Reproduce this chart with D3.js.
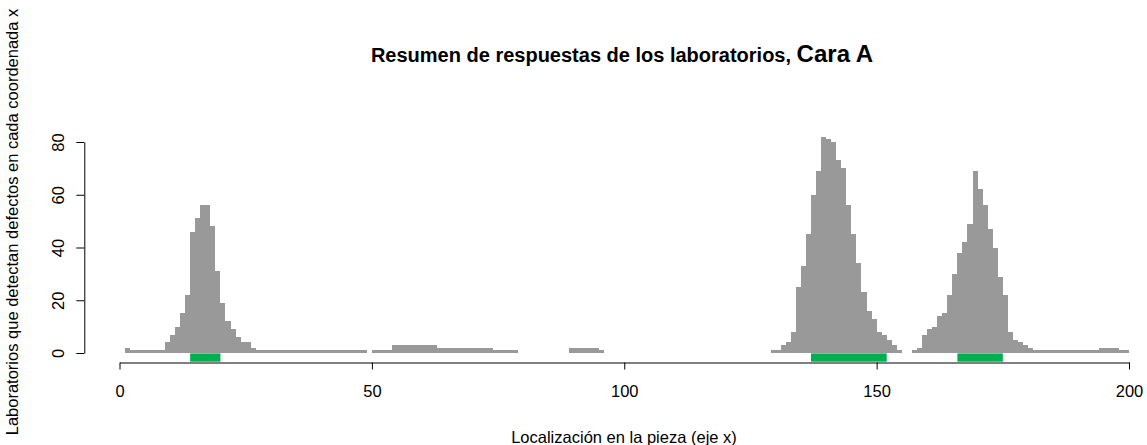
<!DOCTYPE html>
<html>
<head>
<meta charset="utf-8">
<script src="https://cdn.jsdelivr.net/npm/d3@7"></script>
<style>
  html, body { margin: 0; padding: 0; background: #fff; }
  svg { display: block; font-family: "Liberation Sans", Arial, sans-serif; }
</style>
</head>
<body>
<svg id="chart" width="1147" height="445"></svg>
<script>
// ---- Data ----
// Count of laboratories detecting defects for each unit bin [i, i+1), i = 0..199
const counts = [
  0, 2, 1, 1, 1, 1, 1, 1, 1, 4,
  7, 10, 15, 22, 46, 51, 56, 56, 48, 31,
  19, 12, 9, 6, 4, 4, 2, 1, 1, 1,
  1, 1, 1, 1, 1, 1, 1, 1, 1, 1,
  1, 1, 1, 1, 1, 1, 1, 1, 1, 0,
  1, 1, 1, 1, 3, 3, 3, 3, 3, 3,
  3, 3, 3, 2, 2, 2, 2, 2, 2, 2,
  2, 2, 2, 2, 1, 1, 1, 1, 1, 0,
  0, 0, 0, 0, 0, 0, 0, 0, 0, 2,
  2, 2, 2, 2, 2, 1, 0, 0, 0, 0,
  0, 0, 0, 0, 0, 0, 0, 0, 0, 0,
  0, 0, 0, 0, 0, 0, 0, 0, 0, 0,
  0, 0, 0, 0, 0, 0, 0, 0, 0, 1,
  1, 3, 4, 8, 25, 33, 45, 60, 69, 82,
  81, 80, 73, 70, 56, 45, 34, 23, 16, 13,
  8, 7, 5, 3, 1, 0, 0, 1, 2, 7,
  9, 10, 14, 15, 22, 30, 38, 42, 49, 69,
  62, 56, 47, 40, 29, 22, 8, 5, 4, 3,
  2, 1, 1, 1, 1, 1, 1, 1, 1, 1,
  1, 1, 1, 1, 2, 2, 2, 2, 1, 1
];
// True defect zones (green marks)
const zoneStart = [14, 137, 166];
const zoneEnd   = [20, 152, 175];
// Ticks
const xTicks = [0, 50, 100, 150, 200];
const yTicks = [0, 20, 40, 60, 80];
// Texts
const titleMain = "Resumen de respuestas de los laboratorios, ";
const titleFace = "Cara A";
const xTitle = "Localización en la pieza (eje x)";
const yTitle = "Laboratorios que detectan defectos en cada coordenada x";

// ---- Chart ----
const svg = d3.select("#chart");
const x = d3.scaleLinear().domain([0, 200]).range([119.5, 1129]);
const y = d3.scaleLinear().domain([0, 80]).range([353, 142]);

const bins = counts.map((v, i) => ({ pos: i, v: v })).filter(d => d.v > 0);

svg.append("g")
  .attr("shape-rendering", "crispEdges")
  .selectAll("rect")
  .data(bins)
  .join("rect")
  .attr("x", d => x(d.pos))
  .attr("width", d => x(d.pos + 1) - x(d.pos))
  .attr("y", d => y(d.v))
  .attr("height", d => y(0) - y(d.v) + 0.3)
  .attr("fill", "#999999");

svg.append("g").selectAll("rect")
  .data(zoneStart.map((s, i) => ({ s: s, e: zoneEnd[i] })))
  .join("rect")
  .attr("x", d => x(d.s))
  .attr("width", d => x(d.e) - x(d.s))
  .attr("y", y(-0.15))
  .attr("height", y(-3.3) - y(-0.15))
  .attr("fill", "#00B050");

// X axis
const gx = svg.append("g")
  .attr("transform", "translate(0,362.5)")
  .call(d3.axisBottom(x).tickValues(xTicks).tickFormat(d3.format("d"))
        .tickSize(7).tickSizeOuter(0).tickPadding(16));
gx.selectAll("text").attr("font-size", 16.5).attr("fill", "#000")
  .attr("font-family", "Liberation Sans, Arial, sans-serif");
gx.selectAll("line, path").attr("stroke", "#000");

// Y axis
const gy = svg.append("g")
  .attr("transform", "translate(84.3,0)")
  .call(d3.axisLeft(y).tickValues(yTicks).tickFormat(d3.format("d"))
        .tickSize(8).tickSizeOuter(0));
gy.selectAll("text")
  .attr("transform", "rotate(-90)")
  .attr("x", 0).attr("y", -20.3).attr("dy", 0)
  .attr("text-anchor", "middle")
  .attr("font-size", 16.5).attr("fill", "#000")
  .attr("font-family", "Liberation Sans, Arial, sans-serif");
gy.selectAll("line, path").attr("stroke", "#000");

// Title
const t = svg.append("text")
  .attr("x", 622).attr("y", 62)
  .attr("text-anchor", "middle")
  .attr("font-weight", "bold")
  .attr("fill", "#000");
t.append("tspan").attr("font-size", 20).text(titleMain);
t.append("tspan").attr("font-size", 24).text(titleFace);

// Axis titles
svg.append("text")
  .attr("x", 624).attr("y", 443)
  .attr("text-anchor", "middle")
  .attr("font-size", 16.5).attr("fill", "#000")
  .text(xTitle);

svg.append("text")
  .attr("transform", "translate(18,222) rotate(-90)")
  .attr("text-anchor", "middle")
  .attr("font-size", 16.5).attr("fill", "#000")
  .text(yTitle);
</script>
</body>
</html>
